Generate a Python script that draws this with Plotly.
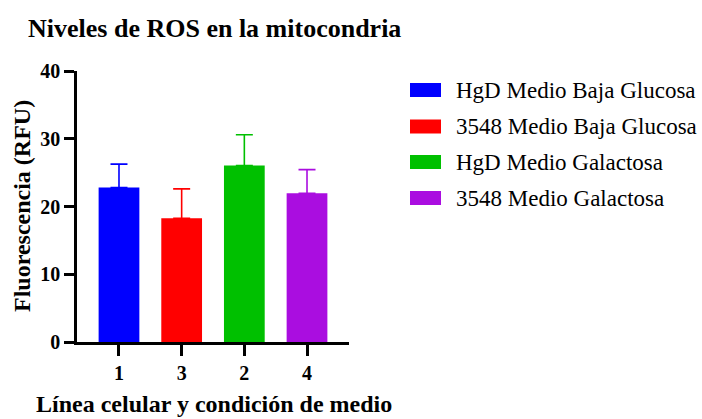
import plotly.graph_objects as go

W, H = 702, 419
categories = ["1", "3", "2", "4"]
series_names = ["HgD Medio Baja Glucosa", "3548 Medio Baja Glucosa",
                "HgD Medio Galactosa", "3548 Medio Galactosa"]
means = [22.8, 18.25, 26.05, 21.95]
errors = [3.45, 4.35, 4.55, 3.5]
colors = ["#0000FF", "#FF0000", "#00C000", "#AA0DE0"]
y_ticks = [0, 10, 20, 30, 40]

FONT = "Liberation Serif, Times New Roman, serif"

# pixel geometry of the plot area
x0, x1 = 77, 349
y0, y1 = 71, 342

fig = go.Figure()
for cat, name, m, e, c in zip(categories, series_names, means, errors, colors):
    fig.add_trace(go.Bar(
        x=[cat], y=[m], name=name, width=0.65,
        marker=dict(color=c, line=dict(width=0)),
        error_y=dict(type="data", symmetric=False, array=[e], arrayminus=[0],
                     color=c, thickness=1.6, width=8.5),
        showlegend=False,
    ))

def px_x(p):
    return p / W

def px_y(p):
    return 1 - p / H

shapes = []
annotations = []
row_y = [90, 126.5, 162, 198]
for name, c, ry in zip(series_names, colors, row_y):
    shapes.append(dict(type="rect", xref="paper", yref="paper",
                       x0=px_x(410), x1=px_x(441), y0=px_y(ry + 7), y1=px_y(ry - 7),
                       fillcolor=c, line=dict(width=0)))
    annotations.append(dict(text=name, xref="paper", yref="paper",
                            x=px_x(454), y=px_y(ry), xanchor="left", yanchor="middle",
                            showarrow=False, font=dict(family=FONT, size=23, color="black")))

annotations.append(dict(text="<b>Niveles de ROS en la mitocondria</b>", xref="paper", yref="paper",
                        x=px_x(26), y=px_y(29), xanchor="left", yanchor="middle",
                        showarrow=False, font=dict(family=FONT, size=26, color="black")))
annotations.append(dict(text="<b>Fluorescencia (RFU)</b>", xref="paper", yref="paper",
                        x=px_x(22), y=px_y(206), xanchor="center", yanchor="middle",
                        textangle=-90, showarrow=False,
                        font=dict(family=FONT, size=24, color="black")))
annotations.append(dict(text="<b>Línea celular y condición de medio</b>", xref="paper", yref="paper",
                        x=px_x(214), y=0, xanchor="center", yanchor="bottom",
                        showarrow=False, font=dict(family=FONT, size=24, color="black")))

fig.update_layout(
    template="none",
    width=W, height=H,
    margin=dict(l=0, r=0, t=0, b=0, pad=0),
    paper_bgcolor="white", plot_bgcolor="white",
    barmode="overlay",
    shapes=shapes, annotations=annotations,
    font=dict(family=FONT, color="black"),
    xaxis=dict(domain=[x0 / W, x1 / W], type="category", range=[-0.67, 3.67],
               categoryorder="array", categoryarray=categories, automargin=False,
               showline=True, linecolor="black", linewidth=2.5,
               ticks="outside", ticklen=11, tickwidth=2.5, tickcolor="black",
               showgrid=False, zeroline=False,
               tickfont=dict(family=FONT, size=20, color="black"),
               tickprefix="<b>", ticksuffix="</b>"),
    yaxis=dict(domain=[1 - y1 / H, 1 - y0 / H], range=[0, 40], automargin=False,
               tickvals=y_ticks, ticktext=[f"<b>{v}</b>" for v in y_ticks],
               showline=True, linecolor="black", linewidth=2.5,
               ticks="outside", ticklen=10, tickwidth=2.5, tickcolor="black",
               showgrid=False, zeroline=False,
               tickfont=dict(family=FONT, size=20, color="black")),
)

fig.write_html("out.html", config={"displayModeBar": False},
               post_script="document.body.style.margin='0';")
